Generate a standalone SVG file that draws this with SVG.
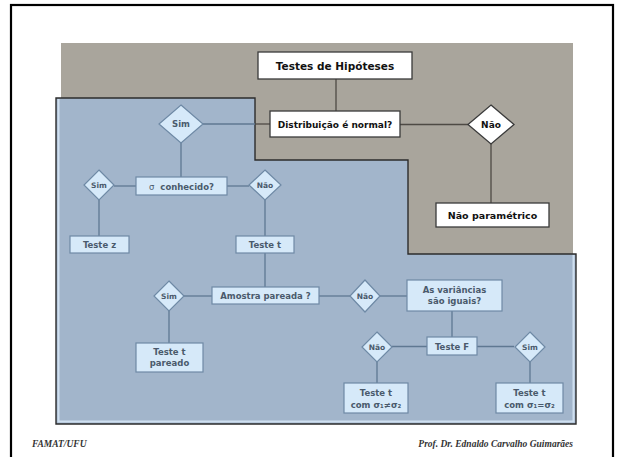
<svg xmlns="http://www.w3.org/2000/svg" width="621" height="457" viewBox="0 0 621 457">
<style>
.wb{fill:#ffffff;stroke:#3a3a3a;stroke-width:1.3}
.wt{font-family:"DejaVu Sans",Verdana,sans-serif;font-weight:bold;fill:#111;text-anchor:middle}
.bb{fill:#d6e9f9;stroke:#6e89a5;stroke-width:1.2}
.bt{font-family:"DejaVu Sans",Verdana,sans-serif;font-weight:bold;font-size:8.5px;fill:#4a5a6c;text-anchor:middle}
.dt{font-family:"DejaVu Sans",Verdana,sans-serif;font-weight:bold;font-size:7.5px;fill:#4a5a6c;text-anchor:middle}
.bl{stroke:#5f7892;stroke-width:1.3;fill:none}
.gl{stroke:#4e4a44;stroke-width:1.3;fill:none}
.ft{font-family:"Liberation Serif","DejaVu Serif",serif;font-style:italic;font-weight:bold;font-size:9.5px;fill:#333}
</style>
<rect x="0" y="0" width="621" height="457" fill="#ffffff"/>
<rect x="11" y="5" width="602" height="470" fill="none" stroke="#000" stroke-width="2.2"/>
<rect x="61" y="43" width="512" height="211" fill="#a9a59c"/>
<polygon points="56,98 255,98 255,160 408,160 408,254 576,254 576,424 56,424" fill="#a2b5cb" stroke="#2c2c2c" stroke-width="1.4"/>
<polyline points="58.5,99 58.5,421.5 573.5,421.5 573.5,255" fill="none" stroke="#cfe0f0" stroke-width="2"/>

<g id="connectors">
<line class="gl" x1="336" y1="79" x2="336" y2="111"/>
<line class="bl" x1="203" y1="124" x2="255" y2="124"/>
<line class="gl" x1="255" y1="124" x2="270" y2="124"/>
<line class="gl" x1="400" y1="124.5" x2="468" y2="124.5"/>
<line class="gl" x1="491" y1="144" x2="491" y2="203"/>
<line class="bl" x1="181" y1="143" x2="181" y2="177"/>
<line class="bl" x1="114" y1="186" x2="136" y2="186"/>
<line class="bl" x1="227" y1="186" x2="249" y2="186"/>
<line class="bl" x1="99" y1="200" x2="99" y2="236"/>
<line class="bl" x1="265" y1="200" x2="265" y2="236"/>
<line class="bl" x1="265" y1="253" x2="265" y2="287"/>
<line class="bl" x1="184" y1="296" x2="212" y2="296"/>
<line class="bl" x1="169" y1="311" x2="169" y2="343"/>
<line class="bl" x1="319" y1="296" x2="350" y2="296"/>
<line class="bl" x1="380" y1="296" x2="407" y2="296"/>
<line class="bl" x1="452" y1="311" x2="452" y2="337"/>
<line class="bl" x1="392" y1="346.5" x2="427" y2="346.5"/>
<line class="bl" x1="477" y1="346.5" x2="514" y2="346.5"/>
<line class="bl" x1="377" y1="362" x2="377" y2="383"/>
<line class="bl" x1="530" y1="362" x2="530" y2="383"/>
</g>

<g id="testes-hipoteses">
<rect class="wb" x="258" y="52" width="154" height="27"/>
<text class="wt" x="335" y="69.5" font-size="10.5">Testes de Hipóteses</text>
</g>
<g id="distribuicao">
<rect class="wb" x="270" y="111" width="130" height="26"/>
<text class="wt" x="335" y="127.5" font-size="9">Distribuição é normal?</text>
</g>
<g id="nao-top">
<polygon class="wb" points="491,105 514,124.5 491,144 468,124.5"/>
<text class="wt" x="491" y="128" font-size="9">Não</text>
</g>
<g id="nao-parametrico">
<rect class="wb" x="436" y="203" width="113" height="24"/>
<text class="wt" x="492.5" y="218.5" font-size="9.5">Não paramétrico</text>
</g>
<g id="sim-top">
<polygon class="bb" points="181,105 203,124 181,143 159,124"/>
<text class="bt" x="181" y="127">Sim</text>
</g>
<g id="sigma-conhecido">
<rect class="bb" x="136" y="177" width="91" height="18"/>
<text class="bt" x="181.5" y="189.5" font-size="9.5"><tspan font-weight="normal">σ</tspan>&#160;&#160;conhecido?</text>
</g>
<g id="sim-z">
<polygon class="bb" points="99,170 114,185 99,200 84,185"/>
<text class="dt" x="99" y="188">Sim</text>
</g>
<g id="nao-t">
<polygon class="bb" points="265,170 281,185 265,200 249,185"/>
<text class="dt" x="265" y="188">Não</text>
</g>
<g id="teste-z">
<rect class="bb" x="70" y="236" width="59" height="17"/>
<text class="bt" x="99.5" y="247.5">Teste z</text>
</g>
<g id="teste-t">
<rect class="bb" x="236" y="236" width="58" height="17"/>
<text class="bt" x="265" y="247.5">Teste t</text>
</g>
<g id="amostra-pareada">
<rect class="bb" x="212" y="287" width="107" height="17"/>
<text class="bt" x="265.5" y="298.5">Amostra pareada ?</text>
</g>
<g id="sim-pareado">
<polygon class="bb" points="169,281 184,296 169,311 154,296"/>
<text class="dt" x="169" y="299">Sim</text>
</g>
<g id="teste-t-pareado">
<rect class="bb" x="136" y="343" width="67" height="29"/>
<text class="bt" x="169.5" y="355">Teste t</text>
<text class="bt" x="169.5" y="366">pareado</text>
</g>
<g id="nao-variancias">
<polygon class="bb" points="365,280 380,296 365,312 350,296"/>
<text class="dt" x="365" y="299">Não</text>
</g>
<g id="variancias-iguais">
<rect class="bb" x="407" y="280" width="95" height="31"/>
<text class="bt" x="454.5" y="292.5">As variâncias</text>
<text class="bt" x="454.5" y="304">são iguais?</text>
</g>
<g id="teste-f">
<rect class="bb" x="427" y="337" width="50" height="18"/>
<text class="bt" x="452" y="349.5">Teste F</text>
</g>
<g id="nao-f">
<polygon class="bb" points="377,332 392,347 377,362 362,347"/>
<text class="dt" x="377" y="350">Não</text>
</g>
<g id="sim-f">
<polygon class="bb" points="530,332 545,347 530,362 515,347"/>
<text class="dt" x="530" y="350">Sim</text>
</g>
<g id="teste-t-diferentes">
<rect class="bb" x="344" y="383" width="64" height="30"/>
<text class="bt" x="376" y="396">Teste t</text>
<text class="bt" x="376" y="408" font-weight="normal">com σ₁≠σ₂</text>
</g>
<g id="teste-t-iguais">
<rect class="bb" x="496" y="383" width="67" height="30"/>
<text class="bt" x="529.5" y="396">Teste t</text>
<text class="bt" x="529.5" y="408" font-weight="normal">com σ₁=σ₂</text>
</g>

<text class="ft" x="32" y="447">FAMAT/UFU</text>
<text class="ft" x="573" y="447" text-anchor="end">Prof. Dr. Ednaldo Carvalho Guimarães</text>
</svg>
